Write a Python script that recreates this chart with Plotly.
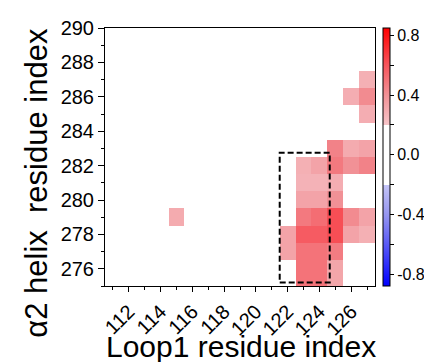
import numpy as np
import plotly.graph_objects as go

# ---- data ----
loop_residues = [111, 112, 113, 114, 115, 116, 117, 118, 119, 120, 121, 122, 123, 124, 125, 126, 127]
helix_residues = [275, 276, 277, 278, 279, 280, 281, 282, 283, 284, 285, 286, 287, 288, 289, 290]

# non-zero correlation cells: (loop residue, helix residue, value)
cell_loop = [115,
             127,
             126, 127,
             127,
             125, 126, 127,
             123, 124, 125, 126, 127,
             123, 124, 125,
             123, 124, 125,
             123, 124, 125, 126, 127,
             122, 123, 124, 125, 126, 127,
             122, 123, 124, 125,
             123, 124, 125,
             123, 124, 125]
cell_helix = [279,
              287,
              286, 286,
              285,
              283, 283, 283,
              282, 282, 282, 282, 282,
              281, 281, 281,
              280, 280, 280,
              279, 279, 279, 279, 279,
              278, 278, 278, 278, 278, 278,
              277, 277, 277, 277,
              276, 276, 276,
              275, 275, 275]
cell_value = [0.30,
              0.28,
              0.29, 0.42,
              0.29,
              0.45, 0.30, 0.33,
              0.28, 0.33, 0.48, 0.40, 0.45,
              0.27, 0.27, 0.29,
              0.33, 0.33, 0.40,
              0.48, 0.52, 0.62, 0.42, 0.33,
              0.33, 0.58, 0.58, 0.62, 0.33, 0.28,
              0.33, 0.50, 0.50, 0.47,
              0.50, 0.50, 0.32,
              0.50, 0.50, 0.32]

cbar_ticks = [-0.8, -0.6, -0.4, -0.2, 0.0, 0.2, 0.4, 0.6, 0.8]
cbar_ticktext = ["-0.8", "", "-0.4", "", "0.0", "", "0.4", "", "0.8"]
x_ticks = [112, 114, 116, 118, 120, 122, 124, 126]
y_ticks = [276, 278, 280, 282, 284, 286, 288, 290]

box_x = [121.5, 124.65]
box_y = [275.2, 282.75]

zmin, zmax = -0.88, 0.85

# ---- build grid ----
z = np.full((len(helix_residues), len(loop_residues)), np.nan)
for lx, hy, v in zip(cell_loop, cell_helix, cell_value):
    z[helix_residues.index(hy), loop_residues.index(lx)] = v


def p(v):
    return (v - zmin) / (zmax - zmin)


colorscale = [
    [0.0, "rgb(0,0,255)"],
    [p(-0.6), "rgb(90,90,245)"],
    [p(-0.4), "rgb(150,150,240)"],
    [p(-0.2) - 0.001, "rgb(196,196,246)"],
    [p(-0.2), "rgb(255,255,255)"],
    [p(0.2), "rgb(255,255,255)"],
    [p(0.2) + 0.001, "rgb(246,196,200)"],
    [p(0.4), "rgb(241,145,150)"],
    [p(0.6), "rgb(246,85,92)"],
    [1.0, "rgb(255,0,0)"],
]

FONT = "Liberation Sans, Arial, sans-serif"

fig = go.Figure()
fig.add_trace(go.Heatmap(
    x=loop_residues, y=helix_residues, z=z,
    zmin=zmin, zmax=zmax, colorscale=colorscale,
    hoverongaps=False,
    colorbar=dict(
        x=0.993, xanchor="left", xref="paper", xpad=10,
        y=0.5, yanchor="middle", len=1.0, lenmode="fraction", ypad=0,
        thickness=7, outlinewidth=1, outlinecolor="black",
        tickvals=cbar_ticks, ticktext=cbar_ticktext,
        ticks="outside", ticklen=4, tickcolor="black",
        tickfont=dict(family=FONT, size=16, color="black"),
    ),
))

fig.add_shape(type="rect", x0=box_x[0], x1=box_x[1], y0=box_y[0], y1=box_y[1],
              xref="x", yref="y",
              line=dict(color="black", width=2, dash="6px,3px"))

fig.update_xaxes(
    range=[110.5, 127.5], tickvals=x_ticks, ticktext=[str(t) for t in x_ticks],
    tickangle=-45, ticks="outside", ticklen=5, tickcolor="black",
    minor=dict(dtick=1, tick0=111, ticks="outside", ticklen=3, tickcolor="black"),
    showline=True, linecolor="black", linewidth=1, mirror=True,
    showgrid=False, zeroline=False,
    tickfont=dict(family=FONT, size=20, color="black"),
)
fig.update_yaxes(
    range=[275, 290], tickvals=y_ticks, ticktext=[str(t) for t in y_ticks],
    ticks="outside", ticklen=6, tickcolor="black",
    minor=dict(dtick=1, tick0=275, ticks="outside", ticklen=3, tickcolor="black"),
    showline=True, linecolor="black", linewidth=1, mirror=True,
    showgrid=False, zeroline=False,
    tickfont=dict(family=FONT, size=20, color="black"),
)

# axis titles
fig.add_annotation(text="Loop1 residue index", xref="paper", yref="paper",
                   x=0.504, y=-0.164, xanchor="center", yanchor="top", showarrow=False,
                   font=dict(family=FONT, size=30, color="black"))
fig.add_annotation(text="α2 helix  residue index", xref="paper", yref="paper",
                   x=-0.252, y=0.40, xanchor="center", yanchor="middle", showarrow=False,
                   textangle=-90, font=dict(family=FONT, size=31, color="black"))

fig.update_layout(
    width=432, height=362,
    margin=dict(l=97, r=65, t=20, b=84, autoexpand=False),
    plot_bgcolor="white", paper_bgcolor="white",
    font=dict(family=FONT, color="black"),
    showlegend=False,
)

fig.write_html("out.html")
